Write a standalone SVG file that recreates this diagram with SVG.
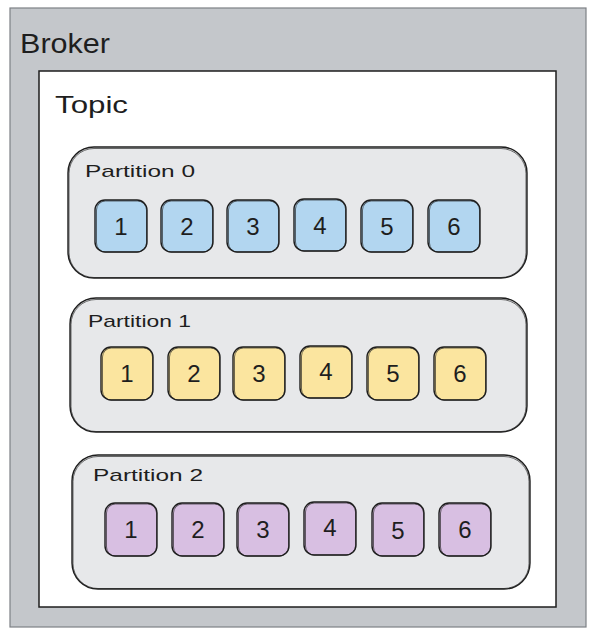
<svg xmlns="http://www.w3.org/2000/svg" width="595" height="635" viewBox="0 0 595 635">
<style>
text{font-family:"Liberation Sans",Arial,sans-serif;fill:#1e1e1e}
.lbl{font-size:17px}
.num{font-size:24px;text-anchor:middle;dominant-baseline:central}
.part{fill:#e7e8ea;stroke:#1e1e1e;stroke-width:1.4}
.cell{stroke:#1e1e1e;stroke-width:1.4}
.blue{fill:#b2d6f0}
.yellow{fill:#fbe59f}
.purple{fill:#d8bfe2}
.sk{fill:none;stroke:#1e1e1e;stroke-width:0.8;opacity:0.8}
</style>
<rect width="595" height="635" fill="#ffffff"/>
<g id="broker">
<rect x="10" y="8" width="576" height="619" fill="#c4c7cb" stroke="#7d8085" stroke-width="1.2"/>
<text x="20" y="53" font-size="27" textLength="90" lengthAdjust="spacingAndGlyphs">Broker</text>
</g>
<g id="topic">
<rect x="39" y="71" width="517" height="536" fill="#ffffff" stroke="#1e1e1e" stroke-width="1.5"/>
<text x="55" y="113" font-size="24" textLength="73" lengthAdjust="spacingAndGlyphs">Topic</text>
</g>
<g id="partition0">
<rect class="part" x="68" y="147" width="459" height="131" rx="26"/>
<rect class="sk" x="69" y="148.5" width="457" height="129" rx="25"/>
<text class="lbl" x="85" y="177" textLength="110" lengthAdjust="spacingAndGlyphs">Partition 0</text>
</g>
<g id="p0-cells">
<g id="p0-1"><rect class="cell blue" x="95" y="200" width="52" height="52" rx="10"/><rect class="sk" x="96.5" y="201" width="50" height="51" rx="9"/><text class="num" x="121" y="226">1</text></g>
<g id="p0-2"><rect class="cell blue" x="161" y="200" width="52" height="52" rx="10"/><rect class="sk" x="162.5" y="201" width="50" height="51" rx="9"/><text class="num" x="187" y="226">2</text></g>
<g id="p0-3"><rect class="cell blue" x="227" y="200" width="52" height="52" rx="10"/><rect class="sk" x="228.5" y="201" width="50" height="51" rx="9"/><text class="num" x="253" y="226">3</text></g>
<g id="p0-4"><rect class="cell blue" x="294" y="199" width="52" height="52" rx="10"/><rect class="sk" x="295.5" y="200" width="50" height="51" rx="9"/><text class="num" x="320" y="225">4</text></g>
<g id="p0-5"><rect class="cell blue" x="361" y="200" width="52" height="52" rx="10"/><rect class="sk" x="362.5" y="201" width="50" height="51" rx="9"/><text class="num" x="387" y="226">5</text></g>
<g id="p0-6"><rect class="cell blue" x="428" y="200" width="52" height="52" rx="10"/><rect class="sk" x="429.5" y="201" width="50" height="51" rx="9"/><text class="num" x="454" y="226">6</text></g>
</g>
<g id="partition1">
<rect class="part" x="70" y="298" width="457" height="134" rx="26"/>
<rect class="sk" x="71" y="299.5" width="455" height="132" rx="25"/>
<text class="lbl" x="88" y="327" textLength="103" lengthAdjust="spacingAndGlyphs">Partition 1</text>
</g>
<g id="p1-cells">
<g id="p1-1"><rect class="cell yellow" x="101" y="347" width="52" height="53" rx="10"/><rect class="sk" x="102.5" y="348" width="50" height="52" rx="9"/><text class="num" x="127" y="373">1</text></g>
<g id="p1-2"><rect class="cell yellow" x="168" y="347" width="52" height="53" rx="10"/><rect class="sk" x="169.5" y="348" width="50" height="52" rx="9"/><text class="num" x="194" y="373">2</text></g>
<g id="p1-3"><rect class="cell yellow" x="233" y="347" width="52" height="53" rx="10"/><rect class="sk" x="234.5" y="348" width="50" height="52" rx="9"/><text class="num" x="259" y="373">3</text></g>
<g id="p1-4"><rect class="cell yellow" x="300" y="346" width="52" height="52" rx="10"/><rect class="sk" x="301.5" y="347" width="50" height="51" rx="9"/><text class="num" x="326" y="371">4</text></g>
<g id="p1-5"><rect class="cell yellow" x="367" y="347" width="52" height="53" rx="10"/><rect class="sk" x="368.5" y="348" width="50" height="52" rx="9"/><text class="num" x="393" y="373">5</text></g>
<g id="p1-6"><rect class="cell yellow" x="434" y="347" width="52" height="53" rx="10"/><rect class="sk" x="435.5" y="348" width="50" height="52" rx="9"/><text class="num" x="460" y="373">6</text></g>
</g>
<g id="partition2">
<rect class="part" x="72" y="455" width="458" height="134" rx="26"/>
<rect class="sk" x="73" y="456.5" width="456" height="132" rx="25"/>
<text class="lbl" x="93" y="481" textLength="110" lengthAdjust="spacingAndGlyphs">Partition 2</text>
</g>
<g id="p2-cells">
<g id="p2-1"><rect class="cell purple" x="105" y="503" width="52" height="53" rx="10"/><rect class="sk" x="106.5" y="504" width="50" height="52" rx="9"/><text class="num" x="131" y="529">1</text></g>
<g id="p2-2"><rect class="cell purple" x="172" y="503" width="52" height="53" rx="10"/><rect class="sk" x="173.5" y="504" width="50" height="52" rx="9"/><text class="num" x="198" y="529">2</text></g>
<g id="p2-3"><rect class="cell purple" x="237" y="503" width="52" height="53" rx="10"/><rect class="sk" x="238.5" y="504" width="50" height="52" rx="9"/><text class="num" x="263" y="529">3</text></g>
<g id="p2-4"><rect class="cell purple" x="304" y="502" width="52" height="53" rx="10"/><rect class="sk" x="305.5" y="503" width="50" height="52" rx="9"/><text class="num" x="330" y="527">4</text></g>
<g id="p2-5"><rect class="cell purple" x="372" y="503" width="52" height="53" rx="10"/><rect class="sk" x="373.5" y="504" width="50" height="52" rx="9"/><text class="num" x="398" y="530">5</text></g>
<g id="p2-6"><rect class="cell purple" x="439" y="503" width="52" height="53" rx="10"/><rect class="sk" x="440.5" y="504" width="50" height="52" rx="9"/><text class="num" x="465" y="529">6</text></g>
</g>
<g id="connectors"></g>
</svg>
